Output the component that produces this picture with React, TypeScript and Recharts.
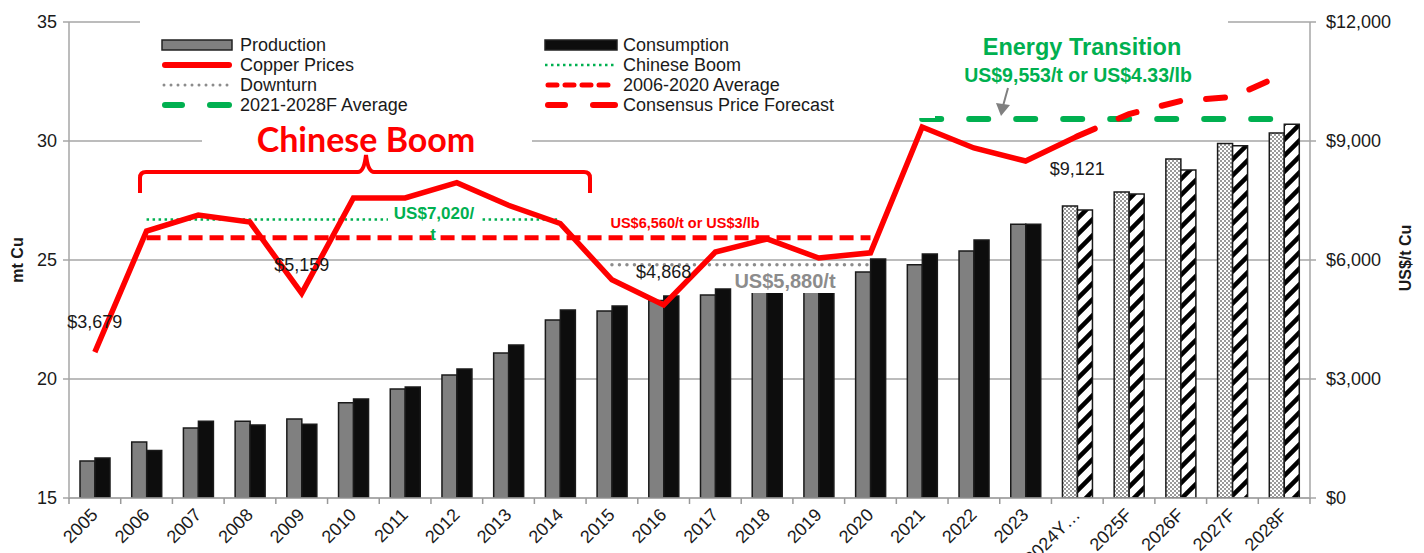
import { Bar, CartesianGrid, Cell, ComposedChart, Line, XAxis, YAxis } from "recharts";

const categories = [
  "2005", "2006", "2007", "2008", "2009", "2010", "2011", "2012", "2013", "2014",
  "2015", "2016", "2017", "2018", "2019", "2020", "2021", "2022", "2023", "2024Y…",
  "2025F", "2026F", "2027F", "2028F",
];
const production = [
  16.55, 17.35, 17.94, 18.23, 18.32, 19.0, 19.58, 20.17, 21.09, 22.48,
  22.86, 23.3, 23.53, 23.8, 23.85, 24.5, 24.8, 25.38, 26.5, 27.27,
  27.86, 29.24, 29.9, 30.34,
];
const consumption = [
  16.68, 17.0, 18.23, 18.07, 18.1, 19.16, 19.66, 20.42, 21.43, 22.9,
  23.07, 23.49, 23.78, 23.9, 23.9, 25.04, 25.25, 25.84, 26.5, 27.1,
  27.77, 28.78, 29.8, 30.7,
];
// 2005 .. 2024Y…
const copperPrices = [
  3679, 6731, 7134, 6956, 5159, 7563, 7563, 7950, 7380, 6920,
  5500, 4868, 6200, 6530, 6050, 6180, 9353, 8824, 8496, 9121,
];
// 2024Y… .. 2028F
const consensusForecast = [9121, 9680, 10010, 10110, 10690];
const chineseBoomAvg = 7020; // 2006-2014
const downturnAvg = 5880; // 2015-2020
const avg2006to2020 = 6560; // 2006-2020
const energyAvg = 9553; // 2021-2028F
const leftTicks = [15, 20, 25, 30, 35];
const rightTicks = [0, 3000, 6000, 9000, 12000];
const labelledPrices: Record<number, number> = { 0: -30, 4: -28, 11: -33, 19: 33 };

const W = 1424;
const H = 553;
const M = { top: 22, right: 34, bottom: 0, left: 0 };
const LEFT_W = 69;
const RIGHT_W = 80;
const STEP = (W - M.left - M.right - LEFT_W - RIGHT_W) / categories.length;
const FONT = "'Liberation Sans', Arial, sans-serif";
const RED = "#ff0000";
const GREEN = "#00b050";
const GREY = "#8c8c8c";
const FORECAST_FROM = 19;

const inRange = (i: number, a: number, b: number, v: number) => (i >= a && i <= b ? v : null);

const data = categories.map((name, i) => ({
  name,
  production: production[i],
  consumption: consumption[i],
  price: i < copperPrices.length ? copperPrices[i] : null,
  forecast: i >= FORECAST_FROM ? consensusForecast[i - FORECAST_FROM] : null,
  boom: inRange(i, 1, 9, chineseBoomAvg),
  downturn: inRange(i, 10, 15, downturnAvg),
  avg: inRange(i, 1, 15, avg2006to2020),
  energy: inRange(i, 16, 23, energyAvg),
}));

function XTick(props: any) {
  const { x, y, payload, index } = props;
  const last = index === categories.length - 1;
  const tx = x + 4;
  const ty = y + 10;
  return (
    <g>
      <line x1={x - STEP / 2} x2={x - STEP / 2} y1={y - 8} y2={y - 2} stroke="#999" strokeWidth={1.5} />
      {last && <line x1={x + STEP / 2} x2={x + STEP / 2} y1={y - 8} y2={y - 2} stroke="#999" strokeWidth={1.5} />}
      <text
        x={tx}
        y={ty}
        textAnchor="end"
        fontSize={18}
        fill="#1a1a1a"
        fontFamily={FONT}
        transform={`rotate(-45, ${tx}, ${ty})`}
      >
        {payload.value}
      </text>
    </g>
  );
}

function priceLabel(props: any) {
  const { x, y, value, index } = props;
  if (!(index in labelledPrices) || value == null) return null;
  return (
    <text
      key={`pl-${index}`}
      x={x}
      y={y + labelledPrices[index]}
      textAnchor="middle"
      dominantBaseline="central"
      fontSize={18}
      fill="#1a1a1a"
      fontFamily={FONT}
    >
      {`$${Number(value).toLocaleString("en-US")}`}
    </text>
  );
}

function Overlay() {
  const c1 = 162;
  const c2 = 545;
  const t1 = 240;
  const t2 = 623;
  const rows = [45, 65, 85, 105];
  const txt = { fontSize: 18, fill: "#1a1a1a", fontFamily: FONT };
  return (
    <svg width={W} height={H} style={{ position: "absolute", left: 0, top: 0, pointerEvents: "none" }}>
      {/* legend */}
      <rect x={140} y={12} width={795} height={106} fill="#fff" />
      <rect x={935} y={12} width={293} height={78} fill="#fff" />
      <rect x={c1} y={rows[0] - 5} width={70} height={10} fill="#808080" stroke="#222" strokeWidth={1.5} />
      <text x={t1} y={rows[0] + 6} {...txt}>Production</text>
      <rect x={c2} y={rows[0] - 5} width={72} height={10} fill="#0d0d0d" stroke="#222" strokeWidth={1.5} />
      <text x={t2} y={rows[0] + 6} {...txt}>Consumption</text>
      <line x1={c1 + 3} x2={c1 + 67} y1={rows[1]} y2={rows[1]} stroke={RED} strokeWidth={6} strokeLinecap="round" />
      <text x={t1} y={rows[1] + 6} {...txt}>Copper Prices</text>
      <line x1={c2} x2={c2 + 72} y1={rows[1]} y2={rows[1]} stroke={GREEN} strokeWidth={2.5} strokeDasharray="2.5 3.5" />
      <text x={t2} y={rows[1] + 6} {...txt}>Chinese Boom</text>
      <line x1={c1 + 2} x2={c1 + 68} y1={rows[2]} y2={rows[2]} stroke={GREY} strokeWidth={3} strokeDasharray="0 7" strokeLinecap="round" />
      <text x={t1} y={rows[2] + 6} {...txt}>Downturn</text>
      <line x1={c2 + 3} x2={c2 + 70} y1={rows[2]} y2={rows[2]} stroke={RED} strokeWidth={5} strokeDasharray="9 8" strokeLinecap="round" />
      <text x={t2} y={rows[2] + 6} {...txt}>2006-2020 Average</text>
      <line x1={c1 + 3} x2={c1 + 20} y1={rows[3]} y2={rows[3]} stroke={GREEN} strokeWidth={6} strokeLinecap="round" />
      <line x1={c1 + 48} x2={c1 + 67} y1={rows[3]} y2={rows[3]} stroke={GREEN} strokeWidth={6} strokeLinecap="round" />
      <text x={t1} y={rows[3] + 6} {...txt}>2021-2028F Average</text>
      <line x1={c2 + 3} x2={c2 + 20} y1={rows[3]} y2={rows[3]} stroke={RED} strokeWidth={6} strokeLinecap="round" />
      <line x1={c2 + 48} x2={c2 + 70} y1={rows[3]} y2={rows[3]} stroke={RED} strokeWidth={6} strokeLinecap="round" />
      <text x={t2} y={rows[3] + 6} {...txt}>Consensus Price Forecast</text>

      {/* Chinese Boom */}
      <rect x={202} y={122} width={330} height={30} fill="#fff" />
      <text x={366} y={138} textAnchor="middle" dominantBaseline="central" fontSize={34} fontWeight={700} fill={RED} fontFamily="Lato, 'Open Sans', sans-serif">
        Chinese Boom
      </text>
      <path
        d="M140,193 L140,178 Q140,172 146,172 L358,172 Q364,172 366,155 Q368,172 374,172 L584,172 Q590,172 590,178 L590,193"
        fill="none"
        stroke={RED}
        strokeWidth={4}
      />

      {/* average annotations */}
      <rect x={388} y={203} width={92} height={20} fill="#fff" />
      <text x={434} y={213} textAnchor="middle" dominantBaseline="central" fontSize={17} fontWeight={700} fill={GREEN} fontFamily={FONT}>US$7,020/</text>
      <text x={433} y={234} textAnchor="middle" dominantBaseline="central" fontSize={17} fontWeight={700} fill={GREEN} fontFamily={FONT}>t</text>
      <text x={685} y={223} textAnchor="middle" dominantBaseline="central" fontSize={14.5} fontWeight={700} fill={RED} fontFamily={FONT}>US$6,560/t or US$3/lb</text>
      <rect x={735} y={269} width={100} height={24} fill="#fff" />
      <text x={785} y={281} textAnchor="middle" dominantBaseline="central" fontSize={20} fontWeight={700} fill={GREY} fontFamily={FONT}>US$5,880/t</text>

      {/* Energy transition */}
      <text x={1082} y={47} textAnchor="middle" dominantBaseline="central" fontSize={23.5} fontWeight={700} fill={GREEN} fontFamily={FONT}>Energy Transition</text>
      <text x={1078} y={75} textAnchor="middle" dominantBaseline="central" fontSize={19.5} fontWeight={700} fill={GREEN} fontFamily={FONT}>US$9,553/t or US$4.33/lb</text>
      <line x1={1008} y1={88} x2={1003} y2={106} stroke="#808080" strokeWidth={2} />
      <path d="M996,103 L1010,105 L1001,116 Z" fill="#808080" />

      {/* axis titles */}
      <text x={17} y={260} textAnchor="middle" dominantBaseline="central" fontSize={16} fontWeight={700} fill="#1a1a1a" fontFamily={FONT} transform="rotate(-90, 17, 260)">mt Cu</text>
      <text x={1405} y={258} textAnchor="middle" dominantBaseline="central" fontSize={16} fontWeight={700} fill="#1a1a1a" fontFamily={FONT} transform="rotate(-90, 1405, 258)">US$/t Cu</text>
    </svg>
  );
}

export default function App() {
  return (
    <div style={{ position: "absolute", left: 0, top: 0, width: W, height: H, background: "#fff" }}>
      <ComposedChart width={W} height={H} data={data} margin={M} barGap={0} barSize={15}>
        <defs>
          <pattern id="checker" width={4} height={4} patternUnits="userSpaceOnUse">
            <rect width={4} height={4} fill="#fff" />
            <rect width={2} height={2} fill="#9a9a9a" />
            <rect x={2} y={2} width={2} height={2} fill="#9a9a9a" />
          </pattern>
          <pattern id="stripes" width={16} height={16} patternUnits="userSpaceOnUse">
            <rect width={16} height={16} fill="#fff" />
            <path d="M-4,4 L4,-4 M0,16 L16,0 M12,20 L20,12" stroke="#000" strokeWidth={4.5} />
          </pattern>
        </defs>
        <CartesianGrid vertical={false} stroke="#a6a6a6" strokeWidth={1.5} yAxisId="left" />
        <XAxis
          dataKey="name"
          height={55}
          interval={0}
          tick={<XTick />}
          tickLine={false}
          tickSize={6}
          tickMargin={2}
          axisLine={{ stroke: "#a6a6a6", strokeWidth: 1.5 }}
        />
        <YAxis
          yAxisId="left"
          width={LEFT_W}
          domain={[15, 35]}
          ticks={leftTicks}
          allowDataOverflow
          tick={{ fontSize: 18, fill: "#1a1a1a", fontFamily: FONT }}
          tickMargin={6}
          tickSize={6}
          tickLine={{ stroke: "#a6a6a6", strokeWidth: 1.5 }}
          axisLine={{ stroke: "#a6a6a6", strokeWidth: 1.5 }}
        />
        <YAxis
          yAxisId="right"
          orientation="right"
          width={RIGHT_W}
          domain={[0, 12000]}
          ticks={rightTicks}
          tickFormatter={(v: number) => `$${v.toLocaleString("en-US")}`}
          tick={{ fontSize: 18, fill: "#1a1a1a", fontFamily: FONT }}
          tickMargin={10}
          tickSize={6}
          tickLine={{ stroke: "#a6a6a6", strokeWidth: 1.5 }}
          axisLine={{ stroke: "#a6a6a6", strokeWidth: 1.5 }}
        />
        <Bar yAxisId="left" dataKey="production" stroke="#1a1a1a" strokeWidth={1.5} isAnimationActive={false}>
          {data.map((d, i) => (
            <Cell key={d.name} fill={i >= FORECAST_FROM ? "url(#checker)" : "#808080"} />
          ))}
        </Bar>
        <Bar yAxisId="left" dataKey="consumption" stroke="#1a1a1a" strokeWidth={1.5} isAnimationActive={false}>
          {data.map((d, i) => (
            <Cell key={d.name} fill={i >= FORECAST_FROM ? "url(#stripes)" : "#0d0d0d"} />
          ))}
        </Bar>
        <Line yAxisId="right" dataKey="boom" stroke={GREEN} strokeWidth={2.5} strokeDasharray="2.5 3.5" dot={false} activeDot={false} connectNulls={false} isAnimationActive={false} />
        <Line yAxisId="right" dataKey="downturn" stroke={GREY} strokeWidth={3.5} strokeDasharray="0 7.5" strokeLinecap="round" dot={false} activeDot={false} isAnimationActive={false} />
        <Line yAxisId="right" dataKey="avg" stroke={RED} strokeWidth={5} strokeDasharray="14 7" dot={false} activeDot={false} isAnimationActive={false} />
        <Line yAxisId="right" dataKey="energy" stroke={GREEN} strokeWidth={6} strokeDasharray="19 28" strokeLinecap="round" dot={false} activeDot={false} isAnimationActive={false} />
        <Line yAxisId="right" dataKey="forecast" stroke={RED} strokeWidth={6} strokeDasharray="19 26" strokeLinecap="round" dot={false} activeDot={false} isAnimationActive={false} />
        <Line yAxisId="right" dataKey="price" stroke={RED} strokeWidth={5.5} dot={false} activeDot={false} label={priceLabel} isAnimationActive={false} />
      </ComposedChart>
      <Overlay />
    </div>
  );
}
